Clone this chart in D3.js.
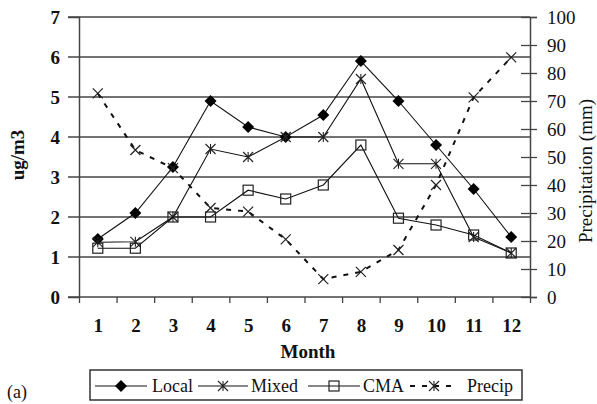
<!DOCTYPE html>
<html>
<head>
<meta charset="utf-8">
<script src="https://cdn.jsdelivr.net/npm/d3@7/dist/d3.min.js"></script>
<style>
html,body{margin:0;padding:0;background:#fff;}
svg{display:block;}
text{font-family:"Liberation Serif","Times New Roman",serif;fill:#111;}
</style>
</head>
<body>
<svg id="chart" width="597" height="404"></svg>
<script>
const months = [1,2,3,4,5,6,7,8,9,10,11,12];
const local  = [1.45,2.1,3.25,4.9,4.25,4.0,4.55,5.9,4.9,3.8,2.7,1.5];
const mixed  = [1.37,1.38,2.0,3.7,3.5,4.0,4.0,5.45,3.33,3.33,1.5,1.1];
const cma    = [1.22,1.22,2.0,2.0,2.67,2.45,2.8,3.8,1.97,1.8,1.55,1.1];
const precip = [72.7,52.5,46,31.8,30.5,20.6,6.4,9.0,16.8,40,71.3,85.6];
const leftTicks  = [0,1,2,3,4,5,6,7];
const rightTicks = [0,10,20,30,40,50,60,70,80,90,100];

const svg = d3.select("#chart");
const L = 79, R = 530, T = 17, B = 297;

const x = d3.scaleLinear().domain([0.5, 12.5]).range([L, R]);
const yL = d3.scaleLinear().domain([0, 7]).range([B, T]);
const yR = d3.scaleLinear().domain([0, 100]).range([B, T]);

// gridlines
svg.append("g").selectAll("line").data(leftTicks).join("line")
  .attr("x1", 68).attr("x2", R)
  .attr("y1", d => yL(d)).attr("y2", d => yL(d))
  .attr("stroke", "#444").attr("stroke-width", 1.6);

// left axis
const gl = svg.append("g").attr("transform", `translate(${L},0)`)
  .call(d3.axisLeft(yL).tickValues(leftTicks).tickSize(11).tickPadding(8).tickFormat(d3.format("d")));
gl.select(".domain").attr("stroke", "#444").attr("stroke-width", 1.5);
gl.selectAll(".tick line").attr("stroke", "none");
gl.selectAll("text").style("font-size", "19px").style("font-weight", "bold").attr("fill", "#111");

// right axis
const gr = svg.append("g").attr("transform", `translate(${R},0)`)
  .call(d3.axisRight(yR).tickValues(rightTicks).tickSize(7).tickPadding(10).tickFormat(d3.format("d")));
gr.select(".domain").attr("stroke", "#444").attr("stroke-width", 1.5);
gr.selectAll(".tick line").attr("x1", -9).attr("x2", 7).attr("stroke", "#444").attr("stroke-width", 1.3);
gr.selectAll("text").style("font-size", "19px").attr("fill", "#111");

// bottom axis ticks at category boundaries
const boundaries = d3.range(0.5, 13, 1);
const gb = svg.append("g").attr("transform", `translate(0,${B})`)
  .call(d3.axisBottom(x).tickValues(boundaries).tickSize(6).tickFormat(""));
gb.select(".domain").attr("stroke", "none");
gb.selectAll(".tick line").attr("stroke", "#444").attr("stroke-width", 1.3);
// bottom labels
const gb2 = svg.append("g").attr("transform", `translate(0,${B})`)
  .call(d3.axisBottom(x).tickValues(months).tickSize(0).tickPadding(22).tickFormat(d3.format("d")));
gb2.select(".domain").attr("stroke", "none");
gb2.selectAll("text").style("font-size", "19px").style("font-weight", "bold").attr("fill", "#111");

// titles
svg.append("text").attr("x", 308).attr("y", 358).attr("text-anchor", "middle")
  .style("font-size", "19px").style("font-weight", "bold").text("Month");
svg.append("text").attr("transform", "translate(24,155) rotate(-90)").attr("text-anchor", "middle")
  .style("font-size", "19px").style("font-weight", "bold").text("ug/m3");
svg.append("text").attr("transform", "translate(592,171) rotate(-90)").attr("text-anchor", "middle")
  .style("font-size", "19px").text("Precipitation (mm)");
svg.append("text").attr("x", 7).attr("y", 398).style("font-size", "18px").text("(a)");

// markers
function marker(g, type, cx, cy) {
  if (type === "diamond") {
    g.append("path").attr("d", `M${cx},${cy-6}L${cx+6},${cy}L${cx},${cy+6}L${cx-6},${cy}Z`).attr("fill", "#000");
  } else if (type === "square") {
    g.append("rect").attr("x", cx-5).attr("y", cy-5).attr("width", 10).attr("height", 10)
      .attr("fill", "none").attr("stroke", "#222").attr("stroke-width", 1.2);
  } else if (type === "star") {
    g.append("path").attr("d", `M${cx-5},${cy-5}L${cx+5},${cy+5}M${cx-5},${cy+5}L${cx+5},${cy-5}M${cx},${cy-5}L${cx},${cy+5}`)
      .attr("stroke", "#222").attr("stroke-width", 1.1).attr("fill", "none");
  } else if (type === "x") {
    g.append("path").attr("d", `M${cx-5},${cy-5}L${cx+5},${cy+5}M${cx-5},${cy+5}L${cx+5},${cy-5}`)
      .attr("stroke", "#222").attr("stroke-width", 1.2).attr("fill", "none");
  }
}

const series = [
  {name: "Local", values: local, scale: yL, type: "diamond", dash: null},
  {name: "Mixed", values: mixed, scale: yL, type: "star", dash: null},
  {name: "CMA", values: cma, scale: yL, type: "square", dash: null},
  {name: "Precip", values: precip, scale: yR, type: "x", dash: "5,7"}
];

series.forEach(s => {
  const line = d3.line().x((d, i) => x(months[i])).y(d => s.scale(d));
  svg.append("path").datum(s.values).attr("d", line)
    .attr("fill", "none").attr("stroke", "#111")
    .attr("stroke-width", s.dash ? 2 : 1.1)
    .attr("stroke-dasharray", s.dash);
  const g = svg.append("g");
  s.values.forEach((v, i) => marker(g, s.type, x(months[i]), s.scale(v)));
});

// legend
svg.append("rect").attr("x", 90).attr("y", 370).attr("width", 432).attr("height", 30)
  .attr("fill", "none").attr("stroke", "#333").attr("stroke-width", 1.5);
const legendItems = [
  {s: series[0], x1: 95,  x2: 147, tx: 152},
  {s: series[1], x1: 198, x2: 248, tx: 251},
  {s: series[2], x1: 308, x2: 360, tx: 363},
  {s: series[3], x1: 410, x2: 458, tx: 467}
];
const lg = svg.append("g");
legendItems.forEach(it => {
  const ly = 386;
  lg.append("line").attr("x1", it.x1).attr("x2", it.x2).attr("y1", ly).attr("y2", ly)
    .attr("stroke", "#111").attr("stroke-width", it.s.dash ? 2 : 1.1)
    .attr("stroke-dasharray", it.s.dash);
  marker(lg, it.s.type === "x" ? "star" : it.s.type, (it.x1 + it.x2) / 2, ly);
  lg.append("text").attr("x", it.tx).attr("y", ly + 6).style("font-size", "18px").text(it.s.name);
});
</script>
</body>
</html>
